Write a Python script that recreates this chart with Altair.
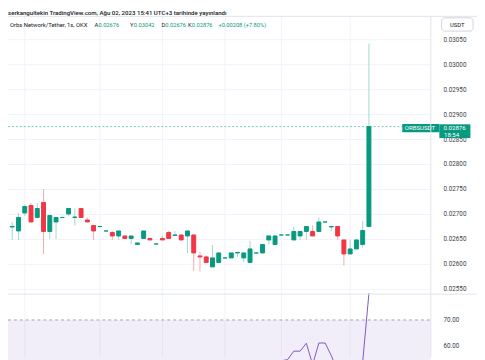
import altair as alt
import pandas as pd

# ---------------- data ----------------
opens = [0.02675, 0.02667, 0.02703, 0.02718, 0.02694, 0.02724, 0.02666, 0.02685, 0.02694, 0.02701,
         0.02694, 0.02712, 0.02689, 0.02678, 0.02676, 0.02667, 0.02664, 0.02657, 0.02657, 0.02652,
         0.02640, 0.02652, 0.02652, 0.02641, 0.02652, 0.02664, 0.02658, 0.02659, 0.02657, 0.02659,
         0.02617, 0.02615, 0.02595, 0.02604, 0.02613, 0.02613, 0.02623, 0.02613, 0.02604, 0.02623,
         0.02623, 0.02649, 0.02640, 0.02659, 0.02659, 0.02649, 0.02657, 0.02666, 0.02666, 0.02666,
         0.02685, 0.02675, 0.02676, 0.02649, 0.02621, 0.02631, 0.02640, 0.02676]
highs = [0.02685, 0.02703, 0.02720, 0.02723, 0.02723, 0.02751, 0.02698, 0.02694, 0.02694, 0.02712,
         0.02712, 0.02712, 0.02694, 0.02678, 0.02676, 0.02667, 0.02667, 0.02667, 0.02657, 0.02657,
         0.02643, 0.02667, 0.02652, 0.02641, 0.02657, 0.02667, 0.02667, 0.02659, 0.02667, 0.02659,
         0.02625, 0.02618, 0.02639, 0.02623, 0.02613, 0.02623, 0.02624, 0.02623, 0.02647, 0.02623,
         0.02640, 0.02657, 0.02657, 0.02659, 0.02659, 0.02676, 0.02666, 0.02676, 0.02678, 0.02694,
         0.02685, 0.02676, 0.02676, 0.02649, 0.02649, 0.02649, 0.02687, 0.03042]
lows = [0.02649, 0.02649, 0.02697, 0.02684, 0.02694, 0.02621, 0.02651, 0.02651, 0.02694, 0.02697,
        0.02678, 0.02694, 0.02685, 0.02649, 0.02676, 0.02667, 0.02649, 0.02649, 0.02652, 0.02641,
        0.02640, 0.02652, 0.02649, 0.02641, 0.02649, 0.02652, 0.02657, 0.02649, 0.02623, 0.02587,
        0.02586, 0.02604, 0.02595, 0.02604, 0.02613, 0.02613, 0.02615, 0.02605, 0.02604, 0.02623,
        0.02623, 0.02640, 0.02640, 0.02659, 0.02659, 0.02649, 0.02649, 0.02649, 0.02657, 0.02666,
        0.02685, 0.02666, 0.02649, 0.02598, 0.02621, 0.02631, 0.02634, 0.02676]
closes = [0.02676, 0.02694, 0.02716, 0.02685, 0.02712, 0.02666, 0.02698, 0.02694, 0.02694, 0.02712,
          0.02695, 0.02694, 0.02685, 0.02667, 0.02676, 0.02667, 0.02657, 0.02667, 0.02652, 0.02657,
          0.02643, 0.02667, 0.02649, 0.02641, 0.02649, 0.02652, 0.02659, 0.02649, 0.02667, 0.02623,
          0.02615, 0.02604, 0.02613, 0.02623, 0.02613, 0.02623, 0.02624, 0.02623, 0.02631, 0.02623,
          0.02640, 0.02657, 0.02657, 0.02659, 0.02659, 0.02666, 0.02666, 0.02676, 0.02657, 0.02685,
          0.02685, 0.02676, 0.02657, 0.02621, 0.02631, 0.02649, 0.02668, 0.02876]

rsi_idx = list(range(36, 58))
rsi_vals = [46, 47, 45, 50, 48, 51, 54, 54, 54.5, 57.8, 57.8, 60.9, 52.5, 61.0, 61.0,
            56.0, 50.0, 42.0, 45.0, 48.0, 53.5, 80.5]

price_ticks = [0.0255, 0.0260, 0.0265, 0.0270, 0.0275, 0.0280, 0.0285, 0.0290, 0.0295, 0.0300, 0.0305]
time_grid_idx = [2, 14, 24, 34, 43, 54]
rsi_label_vals = [70, 60]
rsi_band = [70, 30]

header_title = "serkangultekin TradingView.com, Ağu 02, 2023 15:41 UTC+3 tarihinde yayınlandı"
symbol_text = "Orbs Network/Tether, 1s, OKX"
ohlc_letters = ["A", "Y", "D", "K"]
symbol_short = "ORBSUSDT"
countdown = "18:54"
currency = "USDT"

# ---------------- style ----------------
GREEN = "#089981"
RED = "#f23645"
WICK_UP = "#9fd9cd"
WICK_DN = "#f7a9b0"
PURPLE = "#7e57c2"
GRID = "#f0f3fa"
LINE = "#e0e3eb"
TXT = "#131722"
AXT = "#3a3e48"
FONT = "Roboto"
W, H = 430, 288

n = len(opens)
candles = pd.DataFrame({"i": list(range(n)), "o": opens, "h": highs, "l": lows, "c": closes})
candles["dir"] = ["up" if c >= o else "down" for o, c in zip(opens, closes)]

last_close = closes[-1]
chg = closes[-1] - closes[-2]
pct = chg / closes[-2] * 100
ohlc_vals = [f"{opens[-1]:.5f}", f"{highs[-1]:.5f}", f"{lows[-1]:.5f}", f"{closes[-1]:.5f}"]
change_text = f"+{chg:.5f} (+{pct:.2f}%)"

xs = alt.Scale(domain=[0.107, 66.1], nice=False, zero=False)
ys = alt.Scale(domain=[0.0254055, 0.0310748], nice=False, zero=False)
rs = alt.Scale(domain=[50, 80], range=[366.3, 288.3], nice=False, zero=False)
dir_dom = ["up", "down"]

one = pd.DataFrame({"k": [0]})
ticks_df = pd.DataFrame({"p": price_ticks})
ticks_df["lbl"] = [f"{p:.5f}" for p in price_ticks]

# vertical time grid
vgrid = alt.Chart(pd.DataFrame({"g": time_grid_idx})).mark_rule(color=GRID, strokeWidth=1).encode(
    x=alt.X("g:Q", scale=xs, axis=None), y=alt.value(5.5), y2=alt.value(352))

# ---------------- price pane ----------------
hgrid = alt.Chart(ticks_df).mark_rule(color=GRID, strokeWidth=1).encode(
    y=alt.Y("p:Q", scale=ys, axis=None), x=alt.value(0), x2=alt.value(W))
price_lbl = alt.Chart(ticks_df).mark_text(align="left", baseline="middle", color=AXT,
                                          fontSize=6.4, font=FONT).encode(
    y=alt.Y("p:Q", scale=ys, axis=None), x=alt.value(443), text="lbl:N")

wicks = alt.Chart(candles).mark_rule(strokeWidth=1).encode(
    x=alt.X("i:Q", scale=xs, axis=None),
    y=alt.Y("l:Q", scale=ys, axis=None),
    y2="h:Q",
    color=alt.Color("dir:N", scale=alt.Scale(domain=dir_dom, range=[WICK_UP, WICK_DN]), legend=None))

bodies = alt.Chart(candles).mark_bar(size=4, strokeWidth=1).encode(
    x=alt.X("i:Q", scale=xs, axis=None),
    y=alt.Y("o:Q", scale=ys, axis=None),
    y2="c:Q",
    fill=alt.Fill("dir:N", scale=alt.Scale(domain=dir_dom, range=[GREEN, RED]), legend=None),
    stroke=alt.Stroke("dir:N", scale=alt.Scale(domain=dir_dom, range=[GREEN, RED]), legend=None))

last_df = pd.DataFrame({"v": [last_close], "sym": [symbol_short],
                        "price": [f"{last_close:.5f}"], "time": [countdown]})

close_line = alt.Chart(last_df).mark_rule(strokeDash=[2, 2], strokeWidth=1, color=GREEN, opacity=0.55).encode(
    y=alt.Y("v:Q", scale=ys, axis=None), x=alt.value(0), x2=alt.value(W))

sym_box = alt.Chart(last_df).mark_rule(strokeWidth=8.5, color=GREEN, yOffset=1.6, strokeCap="butt").encode(
    y=alt.Y("v:Q", scale=ys, axis=None), x=alt.value(401), x2=alt.value(438.7))
price_box = alt.Chart(last_df).mark_rule(strokeWidth=14, color=GREEN, yOffset=4.7, strokeCap="butt").encode(
    y=alt.Y("v:Q", scale=ys, axis=None), x=alt.value(438.7), x2=alt.value(470.3))
sym_txt = alt.Chart(last_df).mark_text(align="left", baseline="middle", color="white", fontSize=6.2,
                                       font=FONT, yOffset=1.6).encode(
    y=alt.Y("v:Q", scale=ys, axis=None), x=alt.value(403.5), text="sym:N")
price_txt = alt.Chart(last_df).mark_text(align="left", baseline="middle", color="white", fontSize=6.2,
                                         font=FONT, yOffset=1.6).encode(
    y=alt.Y("v:Q", scale=ys, axis=None), x=alt.value(443), text="price:N")
time_txt = alt.Chart(last_df).mark_text(align="left", baseline="middle", color="white", fontSize=6.2,
                                        font=FONT, yOffset=8.2).encode(
    y=alt.Y("v:Q", scale=ys, axis=None), x=alt.value(443.5), text="time:N")

price_group = alt.layer(hgrid, price_lbl, wicks, bodies, close_line, sym_box, price_box,
                        sym_txt, price_txt, time_txt)

# ---------------- RSI pane ----------------
band_df = pd.DataFrame({"top": [rsi_band[0]], "bot": [rsi_band[1]]})
rsi_df = pd.DataFrame({"i": rsi_idx, "r": rsi_vals})
rsi_lbl_df = pd.DataFrame({"r": rsi_label_vals})

band = alt.Chart(band_df).mark_rect(color=PURPLE, opacity=0.1).encode(
    x=alt.value(0), x2=alt.value(W),
    y=alt.Y("top:Q", scale=rs, axis=None), y2="bot:Q")
band_line = alt.Chart(band_df).mark_rule(strokeDash=[3, 3], color="#a39fb2", strokeWidth=1).encode(
    y=alt.Y("top:Q", scale=rs, axis=None), x=alt.value(0), x2=alt.value(W))
rsi_line = alt.Chart(rsi_df).mark_line(color=PURPLE, strokeWidth=1).encode(
    x=alt.X("i:Q", scale=xs, axis=None), y=alt.Y("r:Q", scale=rs, axis=None))
rsi_lbl = alt.Chart(rsi_lbl_df).mark_text(align="left", baseline="middle", color=AXT,
                                          fontSize=6.4, font=FONT).encode(
    x=alt.value(443), y=alt.Y("r:Q", scale=rs, axis=None), text=alt.Text("r:Q", format=".2f"))

rsi_group = alt.layer(band, band_line, rsi_line, rsi_lbl)

# ---------------- frame & header ----------------
top_line = alt.Chart(one).mark_rule(color=LINE, strokeWidth=1).encode(
    y=alt.value(5.5), x=alt.value(0), x2=alt.value(477))
pane_sep = alt.Chart(one).mark_rule(color=LINE, strokeWidth=1).encode(
    y=alt.value(288), x=alt.value(0), x2=alt.value(477))
right_sep = alt.Chart(one).mark_rule(color=LINE, strokeWidth=1).encode(
    x=alt.value(430), y=alt.value(5.5), y2=alt.value(352))


def txt(s, x, y, color=TXT, size=6.0, align="left", weight="normal"):
    return alt.Chart(pd.DataFrame({"t": [s]})).mark_text(
        align=align, baseline="middle", color=color, fontSize=size, font=FONT, fontWeight=weight
    ).encode(x=alt.value(x), y=alt.value(y), text="t:N")


usdt_box = alt.Chart(one).mark_rect(fill="white", stroke="#d1d4dc", strokeWidth=1, cornerRadius=3).encode(
    x=alt.value(441), x2=alt.value(473), y=alt.value(7), y2=alt.value(20.5))

header_layers = [
    txt(header_title, 0, 2.5, size=6.2, weight=500),
    txt(symbol_text, 2, 14),
]
letter_x = [88, 124, 156, 183]
for L, v, lx in zip(ohlc_letters, ohlc_vals, letter_x):
    header_layers.append(txt(L, lx, 14))
    header_layers.append(txt(v, lx + 4.0, 14, color=GREEN, size=5.8))
header_layers.append(txt(change_text, 214, 14, color=GREEN, size=5.8))
header_layers.append(usdt_box)
header_layers.append(txt(currency, 457, 14, align="center"))

chart = alt.layer(
    vgrid, rsi_group, price_group, top_line, pane_sep, right_sep, *header_layers
).resolve_scale(y="independent").properties(
    width=W, height=H,
    autosize=alt.AutoSizeParams(type="none"),
    padding={"left": 0, "top": 0, "right": 47, "bottom": 64},
    background="white",
).configure_view(stroke=None)

chart.save("out.html", embed_options={"renderer": "svg", "actions": False})
